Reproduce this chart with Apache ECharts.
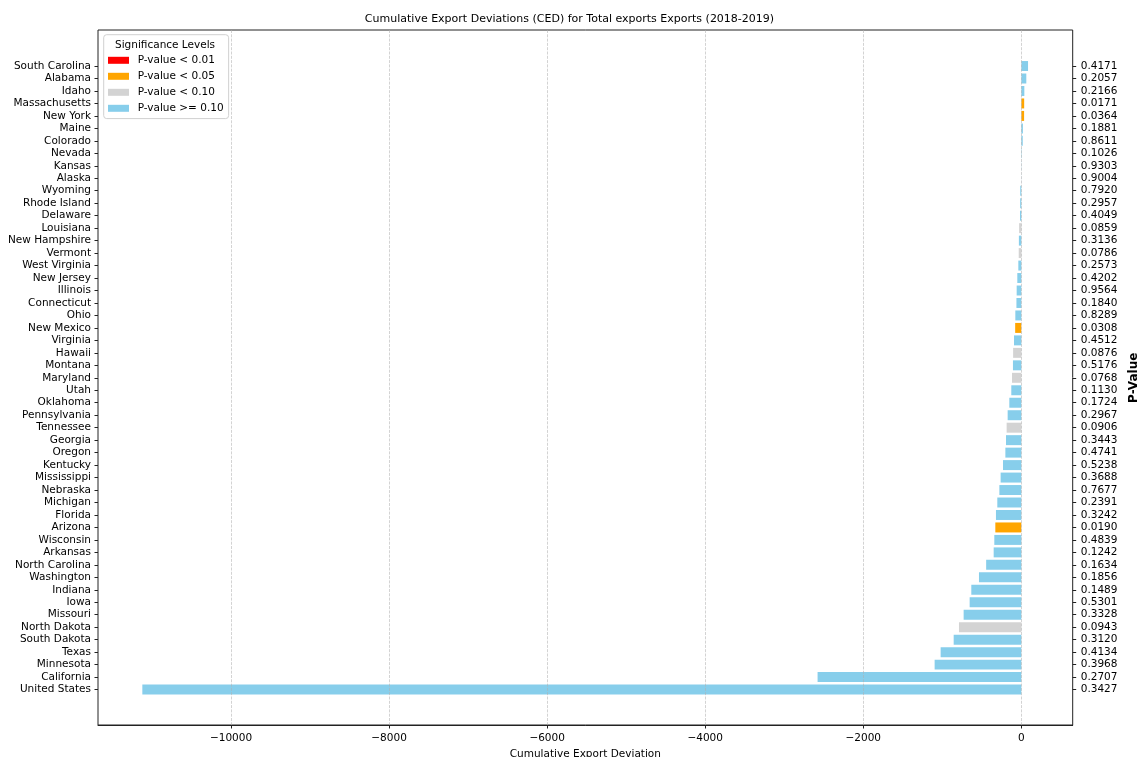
<!DOCTYPE html>
<html>
<head>
<meta charset="utf-8">
<title>Cumulative Export Deviations</title>
<script src="https://cdn.jsdelivr.net/npm/echarts@6/dist/echarts.min.js"></script>
<style>
  html, body { margin: 0; padding: 0; background: #fff; }
  #chart { width: 1139px; height: 757px; }
</style>
</head>
<body>
<div id="chart"></div>
<script>
// States, listed top to bottom as drawn
const states = [
  'South Carolina', 'Alabama', 'Idaho', 'Massachusetts', 'New York', 'Maine', 'Colorado',
  'Nevada', 'Kansas', 'Alaska', 'Wyoming', 'Rhode Island', 'Delaware', 'Louisiana',
  'New Hampshire', 'Vermont', 'West Virginia', 'New Jersey', 'Illinois', 'Connecticut',
  'Ohio', 'New Mexico', 'Virginia', 'Hawaii', 'Montana', 'Maryland', 'Utah', 'Oklahoma',
  'Pennsylvania', 'Tennessee', 'Georgia', 'Oregon', 'Kentucky', 'Mississippi', 'Nebraska',
  'Michigan', 'Florida', 'Arizona', 'Wisconsin', 'Arkansas', 'North Carolina', 'Washington',
  'Indiana', 'Iowa', 'Missouri', 'North Dakota', 'South Dakota', 'Texas', 'Minnesota',
  'California', 'United States'
];

// Cumulative export deviation per state
const cedValues = [
  85, 63, 38, 36, 35, 20, 18,
  5, 2, 1, -14, -15, -17, -28,
  -31, -33, -38, -51, -59, -62,
  -76, -78, -93, -104, -106, -118, -127, -152,
  -173, -186, -194, -202, -232, -262, -278,
  -304, -321, -329, -342, -350, -445, -536,
  -633, -654, -730, -789, -856, -1021, -1097,
  -2578, -11122
];

// P-value per state
const pValues = [
  0.4171, 0.2057, 0.2166, 0.0171, 0.0364, 0.1881, 0.8611,
  0.1026, 0.9303, 0.9004, 0.7920, 0.2957, 0.4049, 0.0859,
  0.3136, 0.0786, 0.2573, 0.4202, 0.9564, 0.1840,
  0.8289, 0.0308, 0.4512, 0.0876, 0.5176, 0.0768, 0.1130, 0.1724,
  0.2967, 0.0906, 0.3443, 0.4741, 0.5238, 0.3688, 0.7677,
  0.2391, 0.3242, 0.0190, 0.4839, 0.1242, 0.1634, 0.1856,
  0.1489, 0.5301, 0.3328, 0.0943, 0.3120, 0.4134, 0.3968,
  0.2707, 0.3427
];

// Tick values on the deviation axis
const xTicks = [-10000, -8000, -6000, -4000, -2000, 0];

// Significance levels and their thresholds
const levelNames = ['P-value < 0.01', 'P-value < 0.05', 'P-value < 0.10', 'P-value >= 0.10'];
const levelLimits = [0.01, 0.05, 0.10, Infinity];
const levelColors = ['#ff0000', '#ffa500', '#d3d3d3', '#87ceeb'];

function levelOf(p) {
  for (let k = 0; k < levelLimits.length; k++) if (p < levelLimits[k]) return k;
  return levelLimits.length - 1;
}

const FONT = 'DejaVu Sans';
const X_MIN = -11683, X_MAX = 650;
const minusSign = v => String(v).replace('-', '\u2212');

const series = levelNames.map((name, k) => ({
  name: name,
  type: 'bar',
  xAxisIndex: 0,
  yAxisIndex: 0,
  stack: 'ced',
  barWidth: '80%',
  itemStyle: { color: levelColors[k] },
  data: cedValues.map((v, i) => (levelOf(pValues[i]) === k ? v : '-'))
}));

const chart = echarts.init(document.getElementById('chart'), null, { renderer: 'canvas' });

chart.setOption({
  animation: false,
  backgroundColor: '#ffffff',
  textStyle: { fontFamily: FONT },
  title: {
    text: 'Cumulative Export Deviations (CED) for Total exports Exports (2018-2019)',
    left: 'center',
    top: 9,
    textStyle: { fontFamily: FONT, fontSize: 11, fontWeight: 'normal', color: '#000' }
  },
  grid: [
    // bar area: one band per state
    { left: 98, right: 66.3, top: 59.8, bottom: 61.2, containLabel: false, outerBoundsMode: 'none' },
    // plot frame
    { left: 98, right: 66.3, top: 30, bottom: 32, containLabel: false, outerBoundsMode: 'none',
      show: true, borderColor: '#222', borderWidth: 1, backgroundColor: 'transparent' }
  ],
  xAxis: [
    { gridIndex: 0, type: 'value', min: X_MIN, max: X_MAX, show: false },
    {
      gridIndex: 1, type: 'value', min: X_MIN, max: X_MAX, z: 3,
      axisLine: { show: true, onZero: false, lineStyle: { color: '#222', width: 1 } },
      axisTick: { show: true, length: 3.5, customValues: xTicks, lineStyle: { color: '#222' } },
      axisLabel: {
        customValues: xTicks, margin: 8, fontSize: 10.5, color: '#000', fontFamily: FONT,
        formatter: v => minusSign(v)
      },
      splitLine: {
        show: true,
        lineStyle: { color: 'rgba(176,176,176,0.7)', width: 0.8, type: [3, 1.3] }
      },
      name: 'Cumulative Export Deviation',
      nameLocation: 'middle',
      nameGap: 17,
      nameTextStyle: { fontFamily: FONT, fontSize: 10.5, color: '#000' }
    }
  ],
  yAxis: [
    {
      gridIndex: 0, type: 'category', data: states, inverse: true, position: 'left',
      axisLine: { show: false, onZero: false },
      axisTick: { show: true, alignWithLabel: true, length: 3.5, lineStyle: { color: '#222' } },
      axisLabel: { margin: 7, fontSize: 10.5, color: '#000', fontFamily: FONT, interval: 0 },
      splitLine: { show: false }
    },
    {
      gridIndex: 0, type: 'category', data: pValues.map(p => p.toFixed(4)), inverse: true, position: 'right',
      axisLine: { show: false, onZero: false },
      axisTick: { show: true, alignWithLabel: true, length: 3.5, lineStyle: { color: '#222' } },
      axisLabel: { margin: 8, fontSize: 10.5, color: '#000', fontFamily: FONT, interval: 0 },
      splitLine: { show: false },
      name: 'P-Value',
      nameLocation: 'middle',
      nameRotate: 90,
      nameGap: 44,
      nameTextStyle: { fontFamily: FONT, fontSize: 12, fontWeight: 'bold', color: '#000' }
    },
    { gridIndex: 1, type: 'value', min: 0, max: 1, show: false }
  ],
  legend: {
    data: levelNames,
    orient: 'vertical',
    left: 103.7,
    top: 34.7,
    icon: 'rect',
    itemWidth: 21,
    itemHeight: 7,
    itemGap: 4,
    padding: [19.6, 5, 4.3, 4.3],
    backgroundColor: 'rgba(255,255,255,0.85)',
    borderColor: '#d0d0d0',
    borderWidth: 1,
    borderRadius: 3,
    selectedMode: false,
    textStyle: { fontFamily: FONT, fontSize: 10.5, color: '#000', lineHeight: 12, padding: [0, 0, 0, 3.7] }
  },
  graphic: [{
    type: 'text',
    z: 100,
    left: 115,
    top: 39.5,
    style: { text: 'Significance Levels', font: '10.5px "DejaVu Sans"', fill: '#000' }
  }],
  series: series
});
</script>
</body>
</html>
